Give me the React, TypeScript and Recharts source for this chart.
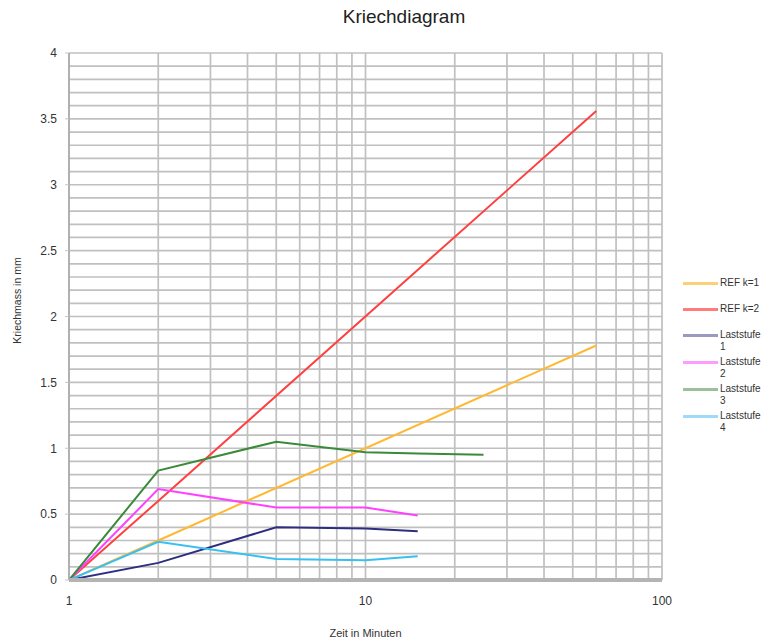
import React from 'react';
import { LineChart, Line, XAxis, YAxis, CartesianGrid } from 'recharts';

// ---- data ----
const refTime = [1, 2, 60];
const refK1 = [0, 0.3, 1.78];
const refK2 = [0, 0.6, 3.56];

const stageTime = [1, 2, 5, 10, 15];
const stage1 = [0, 0.13, 0.4, 0.39, 0.37];
const stage2 = [0, 0.69, 0.55, 0.55, 0.49];
const stage4 = [0, 0.29, 0.16, 0.15, 0.18];

const stage3Time = [1, 2, 5, 10, 15, 25];
const stage3 = [0, 0.83, 1.05, 0.97, 0.96, 0.95];

const xTicks = [1, 2, 3, 4, 5, 6, 7, 8, 9, 10, 20, 30, 40, 50, 60, 70, 80, 90, 100];
const xLabelTicks = [1, 10, 100];
const yTicks = [0, 0.5, 1, 1.5, 2, 2.5, 3, 3.5, 4];
const yGridTicks = [
  0, 0.1, 0.2, 0.3, 0.4, 0.5, 0.6, 0.7, 0.8, 0.9, 1, 1.1, 1.2, 1.3, 1.4, 1.5, 1.6, 1.7, 1.8, 1.9, 2,
  2.1, 2.2, 2.3, 2.4, 2.5, 2.6, 2.7, 2.8, 2.9, 3, 3.1, 3.2, 3.3, 3.4, 3.5, 3.6, 3.7, 3.8, 3.9, 4,
];
const yDomain = [0, 4];

const toPoints = (xs: number[], ys: number[]) => xs.map((x, i) => ({ x, y: ys[i] }));

const series = [
  { name: 'REF k=1', lines: ['REF k=1'], data: toPoints(refTime, refK1), color: '#FFB830', legend: '#FFCF78' },
  { name: 'REF k=2', lines: ['REF k=2'], data: toPoints(refTime, refK2), color: '#FF4040', legend: '#FF7C7C' },
  { name: 'Laststufe 1', lines: ['Laststufe', '1'], data: toPoints(stageTime, stage1), color: '#2E2E80', legend: '#9A9AC0' },
  { name: 'Laststufe 2', lines: ['Laststufe', '2'], data: toPoints(stageTime, stage2), color: '#FF40FF', legend: '#FF9CFF' },
  { name: 'Laststufe 3', lines: ['Laststufe', '3'], data: toPoints(stage3Time, stage3), color: '#3A8A3A', legend: '#9CC09C' },
  { name: 'Laststufe 4', lines: ['Laststufe', '4'], data: toPoints(stageTime, stage4), color: '#38C0F0', legend: '#A0DAFA' },
];

const FONT = '"Liberation Sans", Arial, sans-serif';

const MyLegend = () => (
  <div
    style={{
      position: 'absolute',
      left: 683,
      top: 277,
      width: 91,
      fontFamily: FONT,
      fontSize: 10,
      color: '#333',
    }}
  >
    {series.map((s) => (
      <div key={s.name} style={{ position: 'relative', height: s.lines.length > 1 ? 27 : 26 }}>
        <div style={{ position: 'absolute', left: 0, top: 5, width: 35, height: 3, background: s.legend }} />
        <div style={{ position: 'absolute', left: 37, top: 0, lineHeight: '12px' }}>
          {s.lines.map((l, i) => (
            <div key={i}>{l}</div>
          ))}
        </div>
      </div>
    ))}
  </div>
);

const horizontalGen = (props: any) => {
  const { yAxis, offset } = props;
  const sc = yAxis && yAxis.scale;
  if (typeof sc === 'function') return yGridTicks.map((v) => sc(v));
  return yGridTicks.map(
    (v) => offset.top + offset.height * (1 - (v - yDomain[0]) / (yDomain[1] - yDomain[0]))
  );
};

export default function App() {
  return (
    <div style={{ position: 'absolute', left: 0, top: 0, width: 774, height: 643, background: '#fff' }}>
      <div
        style={{
          position: 'absolute',
          left: 0,
          width: 808,
          top: 6,
          textAlign: 'center',
          fontFamily: FONT,
          fontSize: 19,
          color: '#222',
        }}
      >
        Kriechdiagram
      </div>
      <LineChart
        width={774}
        height={643}
        margin={{ top: 53, right: 112, bottom: 0, left: 0 }}
        style={{ position: 'absolute', left: 0, top: 0 }}
      >
        <CartesianGrid
          stroke="#C0C0C0"
          strokeWidth={1.7}
          horizontalCoordinatesGenerator={horizontalGen}
        />
        <XAxis
          dataKey="x"
          type="number"
          scale="log"
          domain={[1, 100]}
          ticks={xTicks}
          interval={0}
          allowDataOverflow
          tickFormatter={(v: number) => (xLabelTicks.includes(v) ? String(v) : '')}
          tickLine={false}
          axisLine={{ stroke: '#B4B4B4', strokeWidth: 4 }}
          tick={{ fontFamily: FONT, fontSize: 12, fill: '#333' }}
          tickMargin={10}
          height={63}
          label={{
            value: 'Zeit in Minuten',
            position: 'insideBottom',
            offset: 6,
            style: { fontFamily: FONT, fontSize: 11, fill: '#333' },
          }}
        />
        <YAxis
          type="number"
          domain={yDomain}
          ticks={yTicks}
          interval={0}
          width={69}
          tickLine={{ stroke: '#C6C6C6' }}
          tickSize={4}
          tickMargin={8}
          axisLine={{ stroke: '#A8A8A8', strokeWidth: 1.5 }}
          tick={{ fontFamily: FONT, fontSize: 12, fill: '#333' }}
          label={{
            value: 'Kriechmass in mm',
            angle: -90,
            position: 'insideLeft',
            offset: 17,
            dy: -16,
            style: { fontFamily: FONT, fontSize: 10.5, fill: '#333', textAnchor: 'middle' },
          }}
        />
        {series.map((s) => (
          <Line
            key={s.name}
            data={s.data}
            dataKey="y"
            name={s.name}
            type="linear"
            stroke={s.color}
            strokeWidth={2}
            dot={false}
            activeDot={false}
            isAnimationActive={false}
          />
        ))}
      </LineChart>
      <MyLegend />
    </div>
  );
}
